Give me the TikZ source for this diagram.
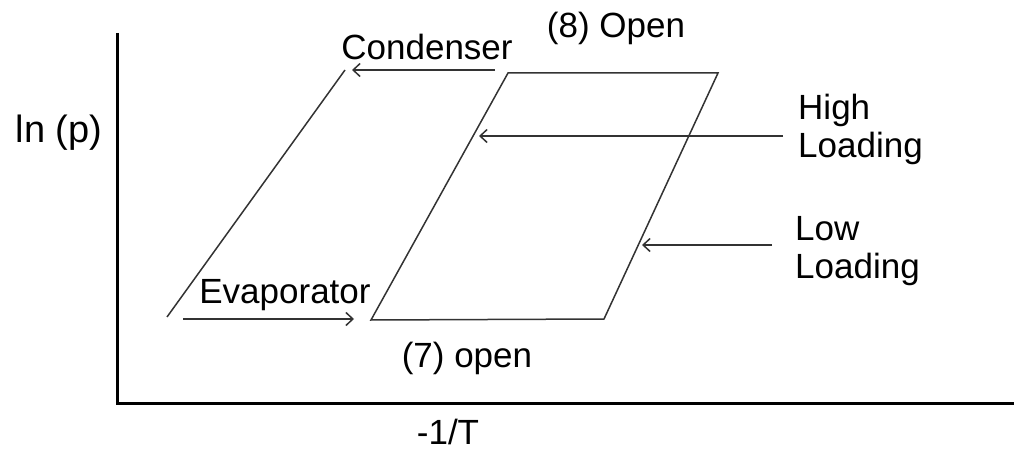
\documentclass[tikz,border=0pt]{standalone}
\usepackage{fontspec}
\setmainfont{Liberation Sans}
\usetikzlibrary{arrows.meta}
\begin{document}
\begin{tikzpicture}[x=1pt,y=-1pt,
  lbl/.style={font=\fontsize{35}{38}\selectfont, inner sep=0pt, anchor=base, text=black},
  biglbl/.style={font=\fontsize{38}{42}\selectfont, inner sep=0pt, anchor=base, text=black},
  axisline/.style={line width=3pt, black},
  thin/.style={line width=1.5pt, draw=black!80},
  arr/.style={thin, -{Straight Barb[length=7pt,width=13pt,line width=1.5pt]}}]
\useasboundingbox (0,0) rectangle (1014,462);
% axes
\coordinate (ytop) at (117,33);
\coordinate (origin) at (117,403);
\coordinate (xend) at (1014,403);
\draw[axisline] (ytop) -- (origin) -- (xend);
% condenser / evaporator line
\coordinate (lb) at (167,317);
\coordinate (lt) at (345,70);
\draw[thin] (lb) -- (lt);
% parallelogram
\coordinate (pbl) at (371,320);
\coordinate (ptl) at (508,73);
\coordinate (ptr) at (718,73);
\coordinate (pbr) at (604,319);
\draw[thin] (pbl) -- (ptl) -- (ptr) -- (pbr) -- cycle;
% labels
\node[biglbl] (lnp) at (59,143) {ln (p)};
\node[lbl] (cond) at (427,60) {Condenser};
\node[lbl] (open8) at (616,38) {(8) Open};
\node[lbl] (evap) at (285,303) {Evaporator};
\node[lbl] (open7) at (467,367) {(7) open};
\node[lbl] (invT) at (448,444) {-1/T};
\node[lbl, anchor=base west, align=left] (high) at (798,158) {High\\Loading};
\node[lbl, anchor=base west, align=left] (low) at (795,279) {Low\\Loading};
% arrows
\coordinate (condS) at (495,70);
\coordinate (condE) at (352,70);
\draw[arr] (condS) -- (condE);
\coordinate (evS) at (183,319);
\coordinate (evE) at (354,319);
\draw[arr] (evS) -- (evE);
\coordinate (hiS) at (783,136);
\coordinate (hiE) at (479,136);
\draw[arr] (hiS) -- (hiE);
\coordinate (loS) at (772,245);
\coordinate (loE) at (642,245);
\draw[arr] (loS) -- (loE);
\end{tikzpicture}
\end{document}
